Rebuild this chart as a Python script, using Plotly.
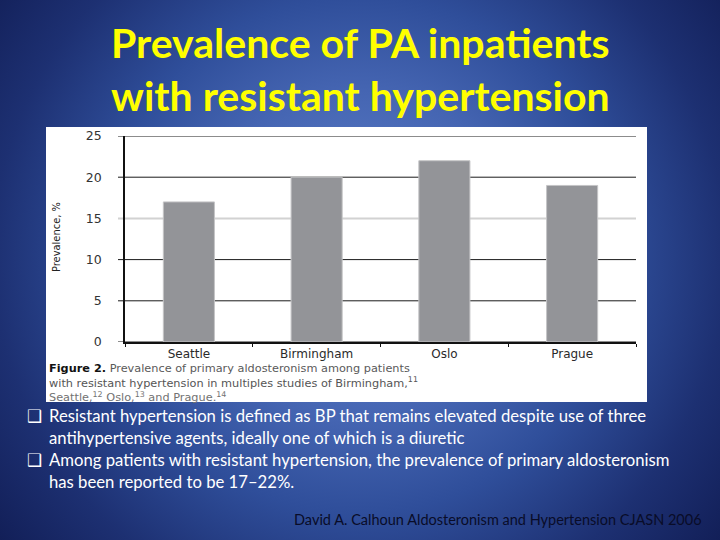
import base64
import plotly.graph_objects as go

# ---------------- data ----------------
categories = ["Seattle", "Birmingham", "Oslo", "Prague"]
prevalence = [17, 20, 22, 19]
y_ticks = [0, 5, 10, 15, 20, 25]

title_lines = ["Prevalence of PA inpatients", "with resistant hypertension"]
caption_lines = [
    "<b>Figure 2.</b> <span style='color:#5a5a5a'>Prevalence of primary aldosteronism among patients</span>",
    "<span style='color:#555555'>with resistant hypertension in multiples studies of Birmingham,<sup>11</sup></span>",
    "<span style='color:#727272'>Seattle,<sup>12</sup> Oslo,<sup>13</sup> and Prague.<sup>14</sup></span>",
]
bullet_lines = [
    (True, "Resistant hypertension is defined as BP that remains elevated despite use of three"),
    (False, "antihypertensive agents, ideally one of which is a diuretic"),
    (True, "Among patients with resistant hypertension, the prevalence of primary aldosteronism"),
    (False, "has been reported to be 17–22%."),
]
citation = "David A. Calhoun Aldosteronism and Hypertension CJASN 2006"

# ---------------- layout geometry (pixels) ----------------
W, H = 720, 540
ML, MR, MT, MB = 125, 84, 136, 198
PW, PH = W - ML - MR, H - MT - MB


def px(x):
    return (x - ML) / PW


def py(y):
    return (H - MB - y) / PH


# background gradient as inline SVG
svg = (
    '<svg xmlns="http://www.w3.org/2000/svg" width="720" height="540" viewBox="0 0 720 540" '
    'preserveAspectRatio="none"><defs><radialGradient id="g" gradientUnits="userSpaceOnUse" '
    'cx="360" cy="255" r="470">'
    '<stop offset="0" stop-color="#6185cf"/>'
    '<stop offset="0.35" stop-color="#4565b2"/>'
    '<stop offset="0.55" stop-color="#2f4e9a"/>'
    '<stop offset="0.78" stop-color="#1d3072"/>'
    '<stop offset="1" stop-color="#111d55"/>'
    '</radialGradient></defs><rect width="720" height="540" fill="url(#g)"/></svg>'
)
bg_src = "data:image/svg+xml;base64," + base64.b64encode(svg.encode()).decode()

fig = go.Figure()
fig.add_trace(
    go.Bar(
        x=categories,
        y=prevalence,
        marker=dict(color="#939498", line=dict(color="#c4c4c6", width=1)),
        hoverinfo="x+y",
    )
)

shapes = [
    dict(type="rect", xref="paper", yref="paper",
         x0=px(46), x1=px(647), y0=py(402), y1=py(127),
         fillcolor="white", line=dict(width=0), layer="below"),
]
for v in y_ticks:
    light = (v == 15)
    shapes.append(dict(type="line", xref="paper", yref="y",
                       x0=px(118), x1=1, y0=v, y1=v,
                       line=dict(color="#d2d2d2" if light else "#1a1a1a",
                                 width=2 if light else 1),
                       layer="below"))

annotations = []
# title
for i, t in enumerate(title_lines):
    annotations.append(dict(text=t, xref="paper", yref="paper",
                            x=px(360), y=py([42, 95][i]), xanchor="center", yanchor="middle",
                            showarrow=False,
                            font=dict(family="Lato", size=41, color="#ffff00", weight="bold")))
# y-axis title
annotations.append(dict(text="Prevalence, %", xref="paper", yref="paper",
                        x=px(56), y=py(237), xanchor="center", yanchor="middle",
                        textangle=-90, showarrow=False,
                        font=dict(family="Liberation Sans Narrow, DejaVu Sans Condensed, Arial Narrow, sans-serif",
                                  size=11, color="#222222")))
# caption (one block, three lines)
annotations.append(dict(text="<br>".join(caption_lines), xref="paper", yref="paper",
                        x=px(47), y=py(383), xanchor="left", yanchor="middle", align="left",
                        showarrow=False,
                        font=dict(family="DejaVu Sans", size=11.3, color="#111111")))
# bullets
for i, (has_bullet, t) in enumerate(bullet_lines):
    yy = [416, 438, 460, 482][i]
    if has_bullet:
        annotations.append(dict(text="❑", xref="paper", yref="paper",
                                x=px(25), y=py(yy), xanchor="left", yanchor="middle",
                                showarrow=False,
                                font=dict(family="DejaVu Sans", size=17, color="white")))
    annotations.append(dict(text=t, xref="paper", yref="paper",
                            x=px(47), y=py(yy), xanchor="left", yanchor="middle",
                            showarrow=False,
                            font=dict(family="Lato", size=16.7, color="white")))
# citation
annotations.append(dict(text=citation, xref="paper", yref="paper",
                        x=px(704), y=py(519), xanchor="right", yanchor="middle",
                        showarrow=False,
                        font=dict(family="Lato", size=14.5, color="#090c28")))

fig.update_layout(
    width=W, height=H,
    margin=dict(l=ML, r=MR, t=MT, b=MB, pad=0),
    paper_bgcolor="#1d3072",
    plot_bgcolor="rgba(0,0,0,0)",
    showlegend=False,
    bargap=0.6,
    shapes=shapes,
    annotations=annotations,
    images=[dict(source=bg_src, xref="paper", yref="paper",
                 x=px(0), y=py(0), sizex=W / PW, sizey=H / PH,
                 xanchor="left", yanchor="top", sizing="stretch", layer="below")],
)
fig.update_xaxes(
    showgrid=False, showline=True, linecolor="#111111", linewidth=1.5,
    ticks="outside", tickson="boundaries", ticklen=3, tickcolor="#111111",
    tickfont=dict(family="DejaVu Sans", size=12, color="#2a2a2a"),
    fixedrange=True,
)
fig.update_yaxes(
    range=[0, 25], tickvals=y_ticks, showgrid=False, zeroline=False,
    showline=True, linecolor="#111111", linewidth=1.5, ticks="",
    ticklabelstandoff=19,
    tickfont=dict(family="DejaVu Sans", size=12.5, color="#333333"),
    fixedrange=True,
)

fig.write_html(
    "out.html",
    config={"displayModeBar": False},
    post_script="document.body.style.margin='0';document.body.style.overflow='hidden';",
)
